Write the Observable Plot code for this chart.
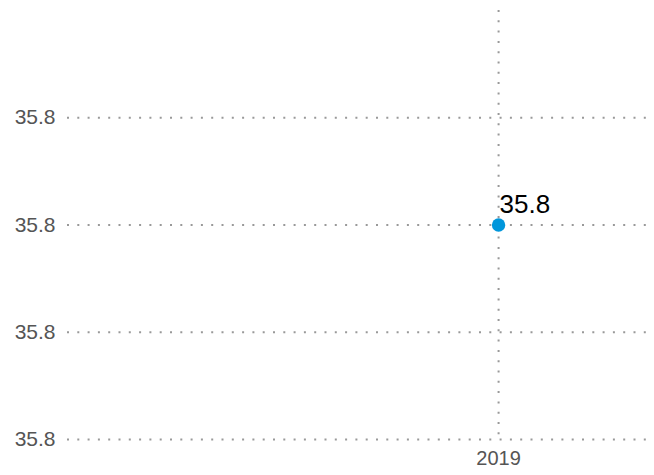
<!DOCTYPE html>
<html>
<head>
<meta charset="utf-8">
<script src="https://cdn.jsdelivr.net/npm/d3@7"></script>
<script src="https://cdn.jsdelivr.net/npm/@observablehq/plot@0.6"></script>
<style>
  html, body { margin: 0; padding: 0; background: #fff; }
  svg { font-family: "Liberation Sans", Arial, sans-serif; }
</style>
</head>
<body>
<div id="chart"></div>
<script>
const years = [2019];
const values = [35.8];
const yTicks = [35.78, 35.79, 35.80, 35.81];
const xTicks = [2019];

const data = years.map((y, i) => ({year: y, value: values[i]}));

const grid = {stroke: "#999", strokeOpacity: 1, strokeWidth: 2, strokeDasharray: "2,8.3"};

const chart = Plot.plot({
  width: 654,
  height: 475,
  marginLeft: 67,
  marginRight: 0,
  marginTop: 10,
  marginBottom: 36,
  style: {fontFamily: "Liberation Sans, Arial, sans-serif", fontSize: "21px", color: "#555", background: "#fff"},
  x: {domain: [2018.4, 2019.217], ticks: xTicks, tickFormat: d3.format("d"), label: null},
  y: {domain: [35.78, 35.82], ticks: yTicks, tickFormat: d3.format(".1f"), label: null},
  marks: [
    Plot.gridY(yTicks, grid),
    Plot.gridX(xTicks, grid),
    Plot.axisY(yTicks, {tickSize: 0, tickPadding: 12, fontSize: 21, fill: "#555", tickFormat: d3.format(".1f"), label: null}),
    Plot.axisX(xTicks, {tickSize: 0, tickPadding: 11, fontSize: 20, fill: "#555", tickFormat: d3.format("d"), label: null}),
    Plot.dot(data, {x: "year", y: "value", r: 6.7, fill: "#0096DB", stroke: "none"}),
    Plot.text(data, {x: "year", y: "value", text: d => d3.format(".1f")(d.value), textAnchor: "start", dx: 1, dy: -20, fontSize: 26, fill: "#000"})
  ]
});
document.getElementById("chart").appendChild(chart);
</script>
</body>
</html>
